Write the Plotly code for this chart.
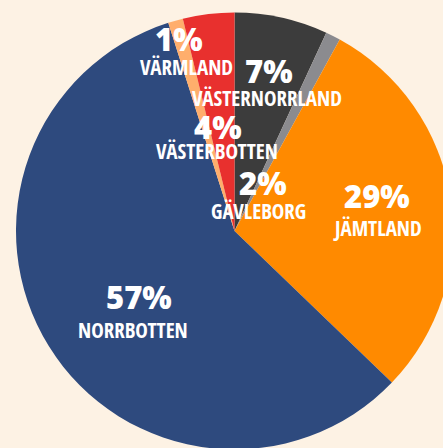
import plotly.graph_objects as go

regions = ["Västernorrland", "Gävleborg", "Jämtland", "Norrbotten", "Värmland", "Västerbotten"]
shares = [6.9, 1.1, 29.2, 57.9, 1.1, 3.8]
# percentages as printed on the chart
pct_labels = ["7%", "2%", "29%", "57%", "1%", "4%"]
colors = ["#3c3c3c", "#8b8b8f", "#ff8a00", "#2e4a7e", "#ffae6c", "#e8302e"]

W, H = 470, 460
cx, cy, R = 234.5, 231, 218.5

fig = go.Figure(go.Pie(
    labels=regions, values=shares, sort=False, direction="clockwise", rotation=0,
    marker=dict(colors=colors, line=dict(width=0)),
    textinfo="none", hoverinfo="label", showlegend=False,
    domain=dict(x=[(cx - R) / W, (cx + R) / W], y=[1 - (cy + R) / H, 1 - (cy - R) / H]),
))

# label centres in pixels (percent line, name line)
label_pos = {
    "Värmland": ((179, 39), (186, 67)),
    "Västernorrland": ((269, 71), (267, 98)),
    "Västerbotten": ((218, 127), (217, 151)),
    "Gävleborg": ((263, 183), (258, 211)),
    "Jämtland": ((377, 196), (377, 228)),
    "Norrbotten": ((139, 297), (133, 330)),
}
pct_font = dict(family="Open Sans", size=31, color="white", weight=800)
name_font = dict(family="Open Sans Condensed, Open Sans, sans-serif", size=21, color="white", weight="bold")
for reg, lab in zip(regions, pct_labels):
    (px, py), (nx, ny) = label_pos[reg]
    fig.add_annotation(x=px / W, y=1 - py / H, xref="paper", yref="paper", text=lab,
                       showarrow=False, font=pct_font, xanchor="center", yanchor="middle")
    fig.add_annotation(x=nx / W, y=1 - ny / H, xref="paper", yref="paper", text=reg.upper(),
                       showarrow=False, font=name_font, xanchor="center", yanchor="middle")

fig.update_layout(width=W, height=H, margin=dict(l=0, r=0, t=0, b=0),
                  paper_bgcolor="#fdf2e4", plot_bgcolor="#fdf2e4")

fig.write_html("out.html", config={"displayModeBar": False},
               post_script="document.body.style.margin='0';document.body.style.overflow='hidden';document.documentElement.style.overflow='hidden';document.body.style.background='#fdf2e4';")
